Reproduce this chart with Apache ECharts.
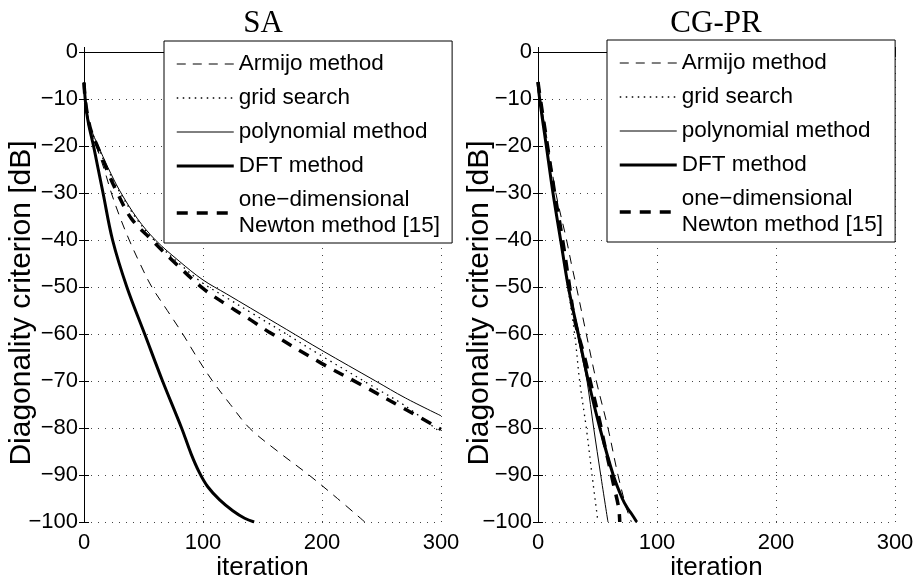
<!DOCTYPE html>
<html>
<head>
<meta charset="utf-8">
<script src="https://cdn.jsdelivr.net/npm/echarts@6/dist/echarts.min.js"></script>
<style>
  html, body { margin: 0; padding: 0; background: #fff; }
  #chart { width: 915px; height: 580px; }
</style>
</head>
<body>
<div id="chart"></div>
<script>
// legend names, same order in both panels
const methodNames = ["Armijo method", "grid search", "polynomial method", "DFT method", "one\u2212dimensional\nNewton method [15]"];
const panelTitles = ["SA", "CG-PR"];

// SA panel: [iteration, dB]
const saArmijo = [[0, -6.5], [1, -10], [3, -13.5], [6, -17], [11, -20.5], [17, -25], [23, -30], [30, -35], [38, -40], [47, -45], [57, -50], [70, -55], [83, -60], [95, -65], [108, -70], [123, -75], [139, -80], [163, -85], [189, -90], [213, -95], [236, -100]];
const saGrid = [[0, -6.5], [1, -10], [3, -13.5], [6, -16.5], [12, -20.3], [20, -25], [30, -29.8], [45, -35.8], [60, -40.3], [80, -45], [100, -49.2], [120, -52.3], [140, -55.4], [170, -60], [200, -64.7], [245, -71.5], [270, -75.3], [300, -81]];
const saPoly = [[0, -6.5], [1, -10], [3, -13.5], [6, -16.5], [12, -20], [20, -24.5], [30, -29.5], [45, -35.5], [60, -40], [80, -44.5], [100, -48.5], [120, -51.5], [140, -54.5], [170, -59], [200, -63.5], [245, -70], [270, -73.6], [300, -77.4]];
const saDft = [[0, -6.5], [1, -10], [2, -12.5], [4, -15.5], [8, -20], [12, -25], [16, -30], [24, -40], [36, -50], [51, -60], [66, -70], [82, -80], [90, -85.5], [97, -89.5], [104, -92.5], [114, -95.3], [125, -97.6], [135, -99.2], [143, -100]];
const saNewton = [[0, -6.5], [1, -10], [3, -13.5], [6, -16.8], [12, -20.5], [20, -25.5], [28, -30], [40, -35.5], [57, -40], [75, -44.5], [100, -50.3], [120, -53.8], [140, -57], [155, -59.5], [200, -66.3], [233, -70.8], [270, -76], [300, -80.3]];

// CG-PR panel
const cgArmijo = [[0, -6.4], [2, -10], [8.5, -20], [15, -30], [24, -40], [28, -45], [32.3, -50], [40.6, -60], [49, -70], [58.8, -80], [67.2, -90], [74.3, -97], [78.5, -100]];
const cgGrid = [[0, -6.4], [1.4, -10], [7, -20], [12.6, -30], [19, -40], [25, -50], [30.8, -60], [35, -70], [40.6, -80], [45.4, -90], [50.4, -100]];
const cgPoly = [[0, -6.4], [1.4, -10], [7, -20], [12.6, -30], [19, -40], [25.5, -50], [33, -60], [38, -66], [41.2, -70], [46.8, -80], [52.7, -90], [58.8, -100]];
const cgDft = [[0, -6.4], [1.4, -10], [7, -20], [12.6, -30], [19, -40], [25.5, -50], [33.9, -60], [42.3, -70], [52, -80], [63.2, -90], [70.8, -95], [75, -97], [78.7, -98.3], [83, -100]];
const cgNewton = [[0, -6.4], [2, -10], [8, -20], [14, -30], [20.7, -40], [26.6, -50], [30.8, -57], [39.2, -65], [43.4, -69.5], [51.8, -78.5], [55.5, -83], [63.9, -92.5], [67.8, -97], [68.7, -100]];

const SANS = "Liberation Sans, Arial, Helvetica, sans-serif";
const lineStyles = [
  { color: "#000", width: 1, type: [9, 7] },
  { color: "#000", width: 1.3, type: [1.5, 4.5] },
  { color: "#000", width: 1, type: "solid" },
  { color: "#000", width: 3, type: "solid" },
  { color: "#000", width: 3.5, type: [11, 9] },
];

const chartEl = echarts.init(document.getElementById("chart"));
const minus = (v) => String(v).replace("-", "\u2212");
const tick = { inside: true, length: 5, lineStyle: { color: "#000" } };
const gridLine = { show: true, lineStyle: { color: "#444", width: 1, type: [1, 6] } };

function xAxes(gridIndex) {
  const common = { gridIndex, type: "value", min: 0, max: 300, interval: 100 };
  return [
    {
      ...common,
      name: "iteration",
      nameLocation: "middle",
      nameGap: 33,
      nameMoveOverlap: false,
      nameTextStyle: { fontSize: 26, color: "#000", fontFamily: SANS },
      axisLine: { lineStyle: { color: "#000", width: 1 } },
      axisTick: tick,
      axisLabel: { fontSize: 22, color: "#000", margin: 10, fontFamily: SANS },
      splitLine: gridLine,
    },
    {
      ...common,
      position: "top",
      axisLine: { show: true, lineStyle: { color: "#000", width: 1 } },
      axisTick: tick,
      axisLabel: { show: false },
      splitLine: { show: false },
    },
  ];
}

function yAxes(gridIndex, gap) {
  const common = { gridIndex, type: "value", min: -100, max: 0, interval: 10 };
  return [
    {
      ...common,
      name: "Diagonality criterion [dB]",
      nameLocation: "middle",
      nameGap: gap,
      nameMoveOverlap: false,
      nameTextStyle: { fontSize: 30, color: "#000", fontFamily: SANS, padding: [0, 32, 0, 0] },
      axisLine: { lineStyle: { color: "#000", width: 1 } },
      axisTick: tick,
      axisLabel: { fontSize: 22, color: "#000", margin: 6, fontFamily: SANS, formatter: minus },
      splitLine: gridLine,
    },
    {
      ...common,
      position: "right",
      axisLine: { show: true, lineStyle: { color: "#000", width: 1 } },
      axisTick: tick,
      axisLabel: { show: false },
      splitLine: { show: false },
    },
  ];
}

function panelSeries(sets, axisIndex) {
  return sets.map((data, i) => ({
    type: "line",
    name: methodNames[i],
    data,
    xAxisIndex: axisIndex,
    yAxisIndex: axisIndex,
    symbol: "none",
    smooth: 0.35,
    lineStyle: lineStyles[i],
    itemStyle: { color: "#000" },
    z: i === 2 ? 4 : 3,
  }));
}

function legend(left, top) {
  return {
    data: methodNames.map((name, i) => ({ name, lineStyle: lineStyles[i] })),
    orient: "vertical",
    left,
    top,
    selectedMode: false,
    backgroundColor: "#fff",
    borderColor: "#000",
    borderWidth: 1,
    borderRadius: 0,
    padding: [10, 12, 4, 11],
    itemWidth: 57,
    itemHeight: 14,
    itemGap: 8,
    itemStyle: { color: "rgba(0,0,0,0)", borderWidth: 0, opacity: 0 },
    textStyle: { fontSize: 22.5, color: "#000", fontFamily: SANS, lineHeight: 26 },
  };
}

chartEl.setOption({
  animation: false,
  backgroundColor: "#fff",
  grid: [
    { left: 84, top: 52, width: 357, height: 470, outerBoundsMode: "none" },
    { left: 538, top: 52, width: 357, height: 470, outerBoundsMode: "none" },
  ],
  xAxis: [...xAxes(0), ...xAxes(1)],
  yAxis: [...yAxes(0, 47), ...yAxes(1, 43)],
  legend: [legend(164, 41), legend(607, 40)],
  graphic: panelTitles.map((text, i) => ({
    type: "text",
    x: i === 0 ? 263 : 716,
    y: 24,
    style: { text, fontSize: 31, fontFamily: "Liberation Serif, Times New Roman, serif", fill: "#000", textAlign: "center", textVerticalAlign: "middle" },
  })),
  series: [
    ...panelSeries([saArmijo, saGrid, saPoly, saDft, saNewton], 0),
    ...panelSeries([cgArmijo, cgGrid, cgPoly, cgDft, cgNewton], 2),
  ],
});
</script>
</body>
</html>
